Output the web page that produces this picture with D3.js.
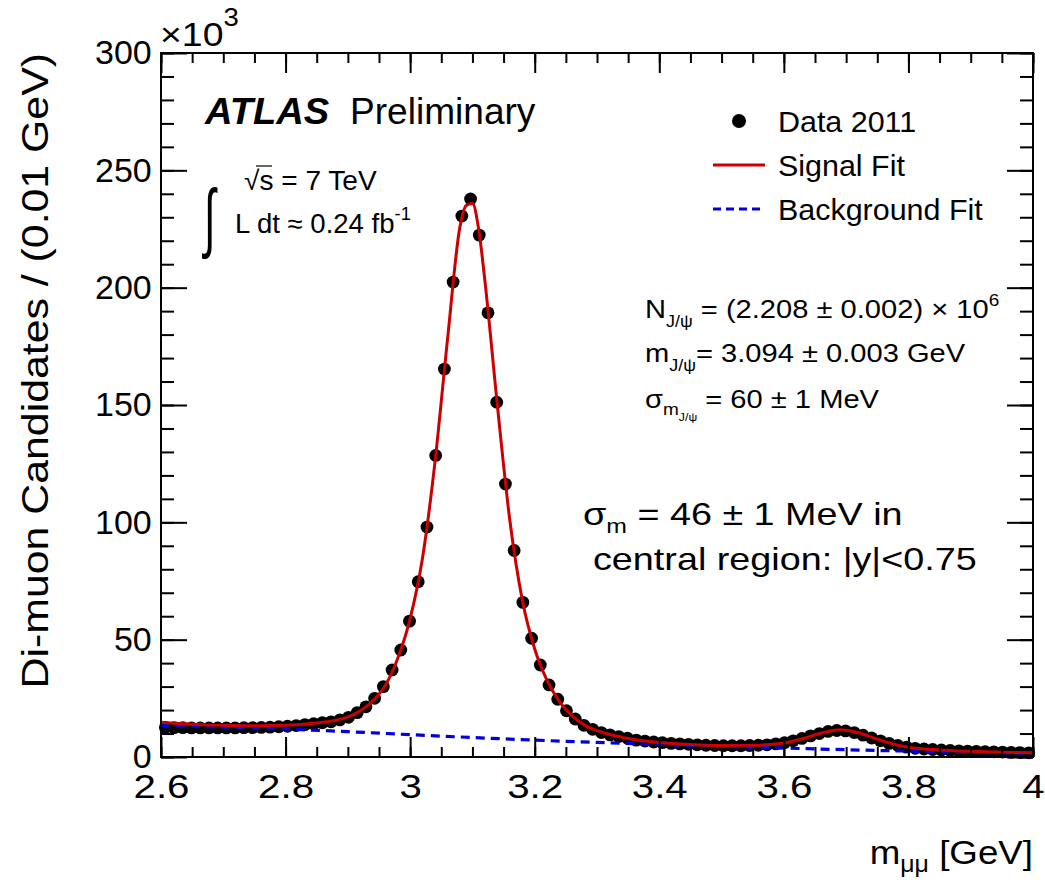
<!DOCTYPE html>
<html>
<head>
<meta charset="utf-8">
<script src="https://cdn.jsdelivr.net/npm/d3@7"></script>
<style>
  body { margin: 0; background: #fff; }
  svg text { font-family: "Liberation Sans", Arial, Helvetica, sans-serif; fill: #000; }
</style>
</head>
<body>
<div id="chart"></div>
<script>
// bins of 0.014 GeV, centres from 2.607 to 3.993 (x10^3 candidates)
var binStart = 2.6;
var binWidth = 0.014;
var dataCounts = [
  12.6, 12.5, 12.5, 12.4, 12.4, 12.4, 12.4, 12.4, 12.4, 12.5,
  12.5, 12.6, 12.7, 12.9, 13.1, 13.4, 13.8, 14.2, 14.6, 15.0,
  15.8, 16.9, 18.9, 21.4, 25.0, 30.0, 37.1, 45.6, 57.9, 74.7,
  98.0, 128.5, 165.3, 202.4, 230.5, 237.8, 222.4, 189.3, 151.2, 116.3,
  88.0, 65.9, 50.6, 39.2, 30.7, 24.6, 19.7, 16.2, 13.5, 11.8,
  10.4, 9.4, 8.7, 8.0, 7.2, 6.8, 6.4, 6.1, 5.8, 5.6,
  5.4, 5.2, 5.0, 4.9, 4.8, 4.8, 4.8, 4.9, 5.0, 5.2,
  5.6, 6.1, 6.9, 7.9, 9.0, 10.0, 10.9, 11.3, 11.1, 10.4,
  9.3, 8.1, 6.9, 5.8, 4.9, 4.2, 3.7, 3.4, 3.2, 3.0,
  2.8, 2.6, 2.5, 2.4, 2.3, 2.2, 2.1, 2.0, 1.9, 1.8
];

var signalX = [2.60, 2.65, 2.70, 2.75, 2.80, 2.85, 2.88, 2.91, 2.94, 2.96,
  2.98, 3.00, 3.02, 3.04, 3.06, 3.08, 3.09, 3.10, 3.11, 3.12,
  3.14, 3.16, 3.18, 3.20, 3.22, 3.24, 3.26, 3.28, 3.30, 3.35,
  3.40, 3.45, 3.50, 3.55, 3.60, 3.63, 3.66, 3.69, 3.72, 3.75,
  3.78, 3.80, 3.85, 3.90, 3.95, 4.00];
var signalY = [14.8, 14.0, 13.5, 13.3, 13.5, 14.5, 15.6, 18.2, 24.0, 30.5,
  42.0, 59.0, 85.0, 126.0, 178.0, 226.0, 235.0, 236.0, 225.0, 203.0,
  150.0, 101.0, 67.0, 46.0, 32.5, 23.5, 17.5, 13.6, 11.2, 7.9,
  6.2, 5.3, 4.9, 5.0, 6.0, 7.8, 10.2, 11.6, 10.3, 7.6,
  5.2, 4.2, 3.0, 2.4, 2.0, 1.8];

var backgroundX = [2.6, 2.7, 2.8, 2.9, 3.0, 3.1, 3.2, 3.3, 3.4, 3.5, 3.6, 3.7, 3.8, 3.9, 4.0];
var backgroundY = [13.4, 12.7, 11.9, 10.8, 9.5, 8.3, 7.2, 6.2, 5.3, 4.5, 3.8, 3.1, 2.5, 2.0, 1.6];

var xTicks = [2.6, 2.8, 3.0, 3.2, 3.4, 3.6, 3.8, 4.0];
var xTickLabels = ["2.6", "2.8", "3", "3.2", "3.4", "3.6", "3.8", "4"];
var yTicks = [0, 50, 100, 150, 200, 250, 300];

var legendLabels = ["Data 2011", "Signal Fit", "Background Fit"];

var width = 1045, height = 882;
var margin = { top: 53, right: 12, bottom: 125, left: 161 };
var w = width - margin.left - margin.right;
var h = height - margin.top - margin.bottom;

var x = d3.scaleLinear().domain([2.6, 4.0]).range([0, w]);
var y = d3.scaleLinear().domain([0, 300]).range([h, 0]);

var svg = d3.select("#chart").append("svg")
    .attr("width", width)
    .attr("height", height);

var g = svg.append("g")
    .attr("transform", "translate(" + margin.left + "," + margin.top + ")");

var points = dataCounts.map(function(v, i) {
  return { x: binStart + binWidth * (i + 0.5), y: v };
});

// data markers
g.append("g").selectAll("circle")
  .data(points)
  .enter().append("circle")
    .attr("cx", d => x(d.x))
    .attr("cy", d => y(d.y))
    .attr("r", 6.4)
    .attr("fill", "#000");

var line = d3.line()
  .x(d => x(d[0]))
  .y(d => y(d[1]))
  .curve(d3.curveMonotoneX);

g.append("path")
  .datum(backgroundX.map((v, i) => [v, backgroundY[i]]))
  .attr("fill", "none")
  .attr("stroke", "#0000dd")
  .attr("stroke-width", 3.2)
  .attr("stroke-dasharray", "9,6")
  .attr("d", line);

g.append("path")
  .datum(signalX.map((v, i) => [v, signalY[i]]))
  .attr("fill", "none")
  .attr("stroke", "#cc0000")
  .attr("stroke-width", 3)
  .attr("d", line);

// axes: major + minor on every side, pointing inwards
var xMinor = d3.range(2.6, 4.0001, 0.05);
var yMinor = d3.range(0, 300.001, 10);

function styleAxis(sel) {
  sel.select(".domain").remove();
  sel.selectAll("line").attr("stroke", "#000").attr("stroke-width", 2);
}

g.append("g").attr("transform", "translate(0," + h + ")")
  .call(d3.axisBottom(x).tickValues(xMinor).tickSize(-10).tickFormat(""))
  .call(styleAxis);
g.append("g").attr("transform", "translate(0," + h + ")")
  .call(d3.axisBottom(x).tickValues(xTicks).tickSize(-20)
    .tickFormat((d, i) => xTickLabels[i]).tickPadding(18))
  .call(styleAxis)
  .selectAll("text").attr("font-size", 33).attr("transform", "scale(1.22,1)");
g.append("g")
  .call(d3.axisTop(x).tickValues(xMinor).tickSize(-10).tickFormat(""))
  .call(styleAxis);
g.append("g")
  .call(d3.axisTop(x).tickValues(xTicks).tickSize(-20).tickFormat(""))
  .call(styleAxis);

g.append("g")
  .call(d3.axisLeft(y).tickValues(yMinor).tickSize(-13).tickFormat(""))
  .call(styleAxis);
g.append("g")
  .call(d3.axisLeft(y).tickValues(yTicks).tickSize(-26).tickPadding(9))
  .call(styleAxis)
  .selectAll("text").attr("font-size", 33).attr("dy", "0.33em")
  .attr("transform", "scale(1.03,1)");
g.append("g").attr("transform", "translate(" + w + ",0)")
  .call(d3.axisRight(y).tickValues(yMinor).tickSize(-13).tickFormat(""))
  .call(styleAxis);
g.append("g").attr("transform", "translate(" + w + ",0)")
  .call(d3.axisRight(y).tickValues(yTicks).tickSize(-26).tickFormat(""))
  .call(styleAxis);

// frame
g.append("rect")
  .attr("width", w).attr("height", h)
  .attr("fill", "none").attr("stroke", "#000").attr("stroke-width", 2);

// text helper: ROOT's Helvetica renders wider than Liberation Sans
function txt(px, py, size, sx, rot) {
  var tr = "translate(" + px + "," + py + ")" + (rot ? " rotate(" + rot + ")" : "") + " scale(" + sx + ",1)";
  return svg.append("text").attr("transform", tr).attr("font-size", size);
}

// exponent
var ex = txt(160, 46, 34, 1.1);
ex.append("tspan").text("\u00d710");
ex.append("tspan").attr("dy", -20).attr("font-size", 25).text("3");

// axis titles
var xt = txt(1033, 864, 34, 1.08).attr("text-anchor", "end");
xt.append("tspan").text("m");
xt.append("tspan").attr("dy", 8).attr("font-size", 23).text("\u03bc\u03bc");
xt.append("tspan").attr("dy", -8).text(" [GeV]");

txt(48, 53, 36, 1.19, -90).attr("text-anchor", "end")
  .text("Di-muon Candidates / (0.01 GeV)");

// ATLAS label
txt(205, 124, 36, 1.06)
  .attr("font-weight", "bold").attr("font-style", "italic")
  .text("ATLAS");
txt(350, 124, 36, 1.03).text("Preliminary");

// energy / luminosity
txt(204, 243, 76, 0.55).text("\u222b");
txt(244, 190, 27, 1.04).text("\u221as = 7 TeV");
svg.append("line").attr("x1", 256).attr("x2", 272).attr("y1", 166).attr("y2", 166)
  .attr("stroke", "#000").attr("stroke-width", 1.2);
var lum = txt(235, 233, 27, 1.02);
lum.append("tspan").text("L dt \u2248 0.24 fb");
lum.append("tspan").attr("dy", -13).attr("font-size", 18).text("-1");

// legend
var legend = svg.append("g").attr("transform", "translate(713,0)");
legend.append("circle").attr("cx", 26).attr("cy", 121).attr("r", 7).attr("fill", "#000");
legend.append("line").attr("x1", 0).attr("x2", 52).attr("y1", 165).attr("y2", 165)
  .attr("stroke", "#cc0000").attr("stroke-width", 3);
legend.append("line").attr("x1", 0).attr("x2", 52).attr("y1", 209).attr("y2", 209)
  .attr("stroke", "#0000dd").attr("stroke-width", 3.2).attr("stroke-dasharray", "8,5");
legendLabels.forEach(function(d, i) {
  txt(778, 132 + i * 44, 29, 1.05).text(d);
});

// fit results
function sub(t, s, dy, size) {
  t.append("tspan").attr("dy", dy).attr("font-size", size).text(s);
}
var n1 = txt(645, 318, 26, 1.12);
n1.append("tspan").text("N");
sub(n1, "J/\u03c8", 9, 16);
n1.append("tspan").attr("dy", -9).text(" = (2.208 \u00b1 0.002) \u00d7 10");
sub(n1, "6", -12, 17);

var n2 = txt(645, 362, 26, 1.12);
n2.append("tspan").text("m");
sub(n2, "J/\u03c8", 9, 16);
n2.append("tspan").attr("dy", -9).text("= 3.094 \u00b1 0.003 GeV");

var n3 = txt(645, 408, 26, 1.12);
n3.append("tspan").text("\u03c3");
sub(n3, "m", 7, 17);
sub(n3, "J/\u03c8", 6, 11);
n3.append("tspan").attr("dy", -13).text(" = 60 \u00b1 1 MeV");

var c1 = txt(583, 525, 32, 1.18);
c1.append("tspan").text("\u03c3");
sub(c1, "m", 8, 21);
c1.append("tspan").attr("dy", -8).text(" = 46 \u00b1 1 MeV in");
txt(593, 570, 32, 1.18).text("central region: |y|<0.75");
</script>
</body>
</html>
